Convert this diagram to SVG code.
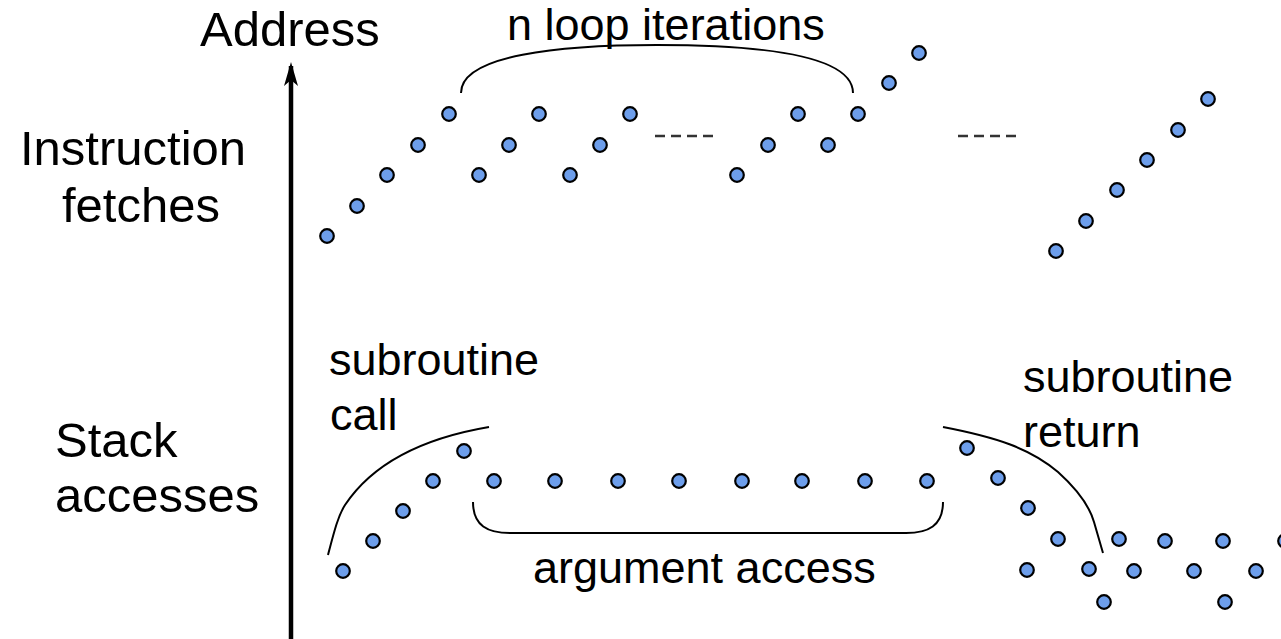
<svg xmlns="http://www.w3.org/2000/svg" width="1281" height="639" viewBox="0 0 1281 639">
<style>
text{font-family:"Liberation Sans",Arial,sans-serif;font-size:45px;fill:#000}
.big{font-size:49px}
.d{fill:#6d9eeb;stroke:#000;stroke-width:2.2}
.c{fill:none;stroke:#000;stroke-width:2}
.dash{fill:none;stroke:#333;stroke-width:2.5;stroke-dasharray:10 6}
</style>
<rect width="1281" height="639" fill="#fff"/>
<g id="axis">
<line x1="291" y1="639" x2="291" y2="66" stroke="#000" stroke-width="4.5"/>
<path d="M291,62 L298,86 L291,80 L284,86 Z" fill="#000"/>
<text class="big" x="200" y="46">Address</text>
</g>
<g id="labels">
<text class="big" x="20" y="165">Instruction</text>
<text class="big" x="62" y="222">fetches</text>
<text class="big" x="55" y="457">Stack</text>
<text class="big" x="55" y="512">accesses</text>
</g>
<g id="instruction-fetches">
<circle class="d" cx="327" cy="236" r="6.8"/>
<circle class="d" cx="357" cy="206" r="6.8"/>
<circle class="d" cx="387" cy="175" r="6.8"/>
<circle class="d" cx="418" cy="145" r="6.8"/>
<circle class="d" cx="449" cy="114" r="6.8"/>
<circle class="d" cx="479" cy="175" r="6.8"/>
<circle class="d" cx="509" cy="145" r="6.8"/>
<circle class="d" cx="539" cy="114" r="6.8"/>
<circle class="d" cx="570" cy="175" r="6.8"/>
<circle class="d" cx="600" cy="145" r="6.8"/>
<circle class="d" cx="630" cy="114" r="6.8"/>
<circle class="d" cx="737" cy="175" r="6.8"/>
<circle class="d" cx="768" cy="145" r="6.8"/>
<circle class="d" cx="798" cy="114" r="6.8"/>
<circle class="d" cx="828" cy="145" r="6.8"/>
<circle class="d" cx="858" cy="114" r="6.8"/>
<circle class="d" cx="889" cy="83" r="6.8"/>
<circle class="d" cx="919" cy="53" r="6.8"/>
<circle class="d" cx="1056" cy="251" r="6.8"/>
<circle class="d" cx="1086" cy="221" r="6.8"/>
<circle class="d" cx="1117" cy="190" r="6.8"/>
<circle class="d" cx="1147" cy="160" r="6.8"/>
<circle class="d" cx="1178" cy="130" r="6.8"/>
<circle class="d" cx="1208" cy="99" r="6.8"/>
<line class="dash" x1="655" y1="136" x2="715" y2="136"/>
<line class="dash" x1="958" y1="136" x2="1018" y2="136"/>
</g>
<g id="loop-brace">
<path class="c" d="M461,93 C461,55 560,45 657,45 C760,45 853,55 853,93"/>
<text x="507" y="40">n loop iterations</text>
</g>
<g id="stack-accesses">
<circle class="d" cx="343" cy="571" r="6.8"/>
<circle class="d" cx="373" cy="541" r="6.8"/>
<circle class="d" cx="403" cy="511" r="6.8"/>
<circle class="d" cx="433" cy="481" r="6.8"/>
<circle class="d" cx="464" cy="451" r="6.8"/>
<circle class="d" cx="494" cy="481" r="6.8"/>
<circle class="d" cx="555" cy="481" r="6.8"/>
<circle class="d" cx="618" cy="481" r="6.8"/>
<circle class="d" cx="679" cy="481" r="6.8"/>
<circle class="d" cx="742" cy="481" r="6.8"/>
<circle class="d" cx="802" cy="481" r="6.8"/>
<circle class="d" cx="865" cy="481" r="6.8"/>
<circle class="d" cx="927" cy="481" r="6.8"/>
<circle class="d" cx="967" cy="448" r="6.8"/>
<circle class="d" cx="998" cy="478" r="6.8"/>
<circle class="d" cx="1028" cy="508" r="6.8"/>
<circle class="d" cx="1058" cy="539" r="6.8"/>
<circle class="d" cx="1027" cy="570" r="6.8"/>
<circle class="d" cx="1089" cy="569" r="6.8"/>
<circle class="d" cx="1119" cy="539" r="6.8"/>
<circle class="d" cx="1104" cy="602" r="6.8"/>
<circle class="d" cx="1134" cy="571" r="6.8"/>
<circle class="d" cx="1165" cy="541" r="6.8"/>
<circle class="d" cx="1194" cy="571" r="6.8"/>
<circle class="d" cx="1223" cy="541" r="6.8"/>
<circle class="d" cx="1225" cy="602" r="6.8"/>
<circle class="d" cx="1256" cy="571" r="6.8"/>
<circle class="d" cx="1285" cy="541" r="6.8"/>
</g>
<g id="call-annotation">
<path class="c" d="M328,555 C334,532 338,516 345,505 C375,460 430,437 489,427"/>
<text x="329" y="375">subroutine</text>
<text x="330" y="430">call</text>
</g>
<g id="argument-brace">
<path class="c" d="M473,502 C473,526 488,533 510,533 L906,533 C928,533 943,526 943,502"/>
<text x="533" y="583">argument access</text>
</g>
<g id="return-annotation">
<path class="c" d="M943,427 C995,437 1030,448 1058,472 C1078,490 1090,508 1094,522 L1103,553"/>
<text x="1023" y="392">subroutine</text>
<text x="1023" y="447">return</text>
</g>
</svg>
